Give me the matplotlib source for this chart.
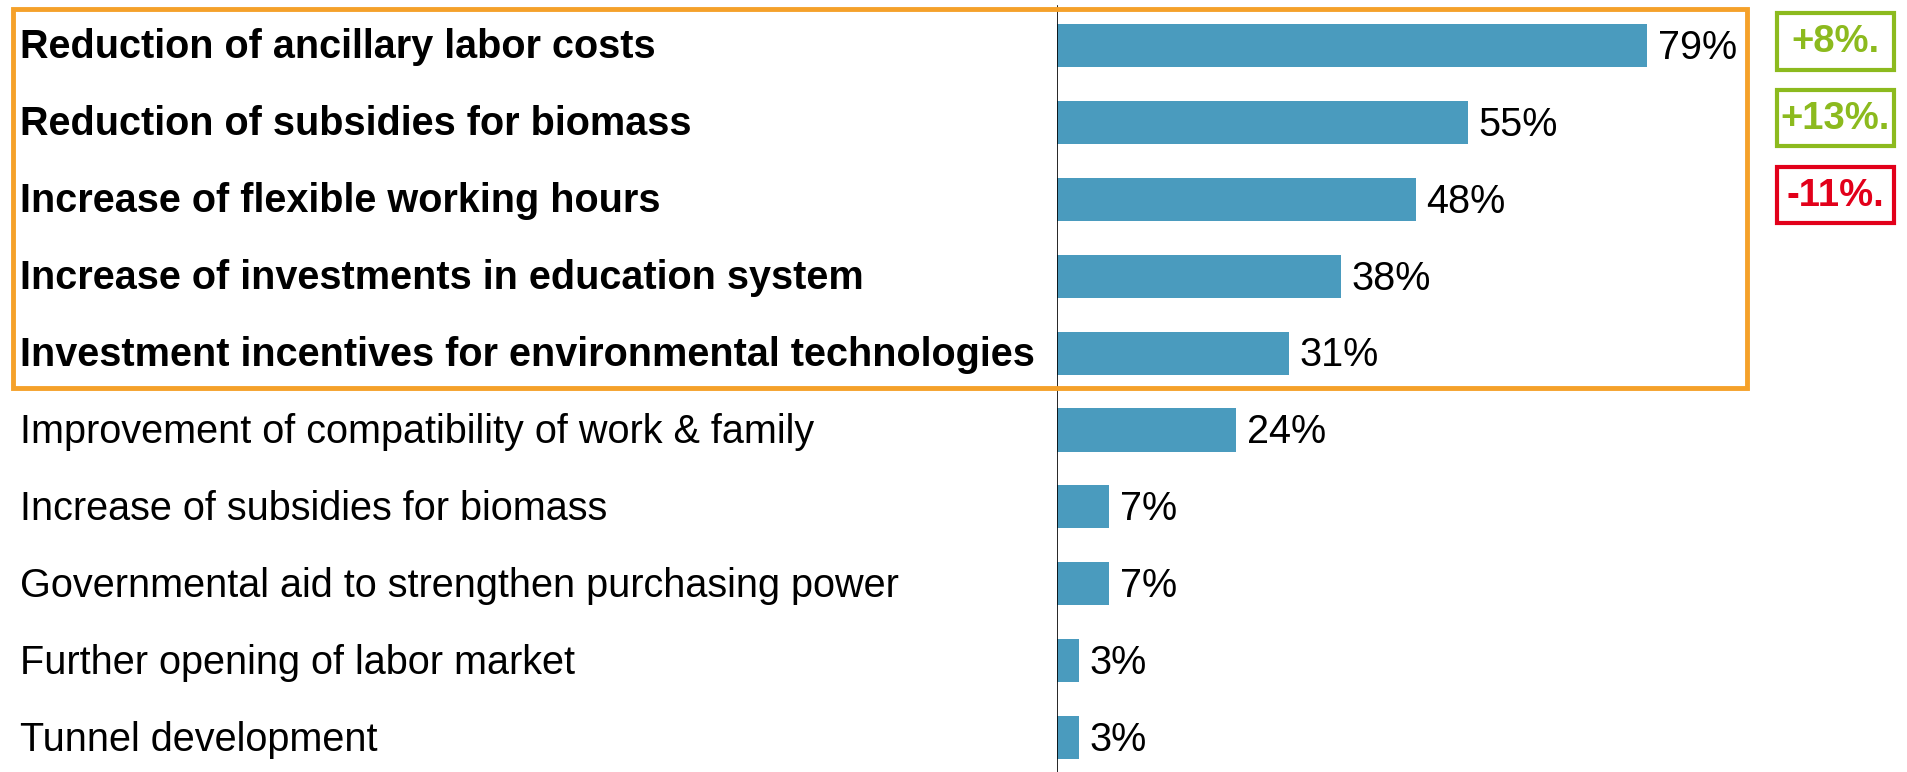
import matplotlib
matplotlib.use("Agg")
import matplotlib.pyplot as plt
from matplotlib.patches import Rectangle

categories = [
    "Reduction of ancillary labor costs",
    "Reduction of subsidies for biomass",
    "Increase of flexible working hours",
    "Increase of investments in education system",
    "Investment incentives for environmental technologies",
    "Improvement of compatibility of work & family",
    "Increase of subsidies for biomass",
    "Governmental aid to strengthen purchasing power",
    "Further opening of labor market",
    "Tunnel development",
]
values = [79, 55, 48, 38, 31, 24, 7, 7, 3, 3]
highlighted = [True, True, True, True, True, False, False, False, False, False]
changes = ["+8%.", "+13%.", "-11%."]
change_colors = ["#8CBA1E", "#8CBA1E", "#E2001A"]

FONT = ["Liberation Sans Narrow", "Liberation Sans", "DejaVu Sans"]
plt.rcParams["font.family"] = FONT

W, H = 1908, 772
fig = plt.figure(figsize=(W / 100, H / 100), dpi=100)
fig.patch.set_facecolor("white")

x0 = 1057
ax = fig.add_axes([x0 / W, 0, 1 - x0 / W, 1])
px_per_unit = 7.47
ax.set_xlim(0, (W - x0) / px_per_unit)
row0, step = 45.5, 76.9
ax.set_ylim((H - row0) / step, -row0 / step)
ax.axis("off")

ys = list(range(len(values)))
ax.barh(ys, values, height=0.56, color="#4A9BBE", edgecolor="none")
for y, v in zip(ys, values):
    ax.text(v + 1.4, y + 0.03, f"{v}%", va="center", ha="left", fontsize=28.5, color="black")

ax.axvline(0, ymin=0, ymax=1 - 6 / H, color="black", lw=1.2)

for y, c, h in zip(ys, categories, highlighted):
    fig.text(20 / W, 1 - (row0 + y * step + 2) / H, c, ha="left", va="center",
             fontsize=28.5, fontweight="bold" if h else "normal", color="black")

# orange highlight box
fig.patches.append(Rectangle((13 / W, 1 - 388 / H), (1747 - 13) / W, (388 - 9) / H,
                             transform=fig.transFigure, fill=False,
                             edgecolor="#F5A12A", lw=3.5))

# change boxes
for i, (t, col) in enumerate(zip(changes, change_colors)):
    cy = row0 + i * step - 4
    bx0, bx1 = 1777, 1894
    bh = 56
    fig.patches.append(Rectangle((bx0 / W, 1 - (cy + bh / 2) / H), (bx1 - bx0) / W, bh / H,
                                 transform=fig.transFigure, fill=False,
                                 edgecolor=col, lw=3))
    fig.text((bx0 + bx1) / 2 / W, 1 - (cy + 1) / H, t, ha="center", va="center",
             fontsize=27.5, fontweight="bold", color=col)

fig.savefig("out.png", dpi=100, facecolor="white")
